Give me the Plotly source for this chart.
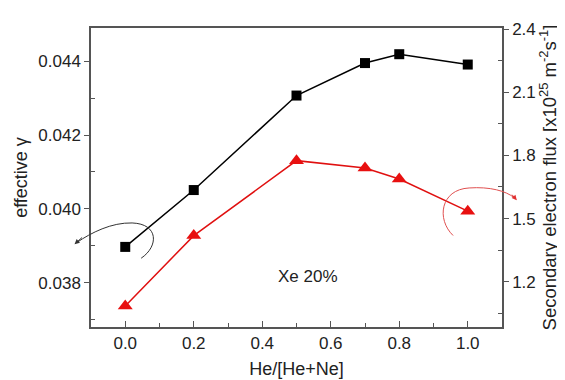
import plotly.graph_objects as go

ratio = [0.0, 0.2, 0.5, 0.7, 0.8, 1.0]
gamma = [0.03897, 0.04051, 0.04307, 0.04395, 0.04419, 0.04391]
flux = [1.085, 1.419, 1.775, 1.740, 1.688, 1.535]

x_ticks = [0.0, 0.2, 0.4, 0.6, 0.8, 1.0]
x_labels = ["0.0", "0.2", "0.4", "0.6", "0.8", "1.0"]
left_ticks = [0.038, 0.040, 0.042, 0.044]
left_labels = ["0.038", "0.040", "0.042", "0.044"]
right_ticks = [1.2, 1.5, 1.8, 2.1, 2.4]
right_labels = ["1.2", "1.5", "1.8", "2.1", "2.4"]

FONT = "Liberation Sans, Arial, sans-serif"
AX = "#555555"
TXT = "#222222"

fig = go.Figure()
fig.add_trace(go.Scatter(x=ratio, y=gamma, mode="lines+markers",
                         line=dict(color="black", width=1.5),
                         marker=dict(symbol="square", size=10, color="black"),
                         showlegend=False))
fig.add_trace(go.Scatter(x=ratio, y=flux, mode="lines+markers", yaxis="y2",
                         line=dict(color="#e01010", width=1.5),
                         marker=dict(symbol="triangle-up", size=13, color="#e81010"),
                         showlegend=False))

# curved arrow (black) pointing to the left axis (paper coordinates)
fig.add_shape(type="path", xref="paper", yref="paper",
              path="M 0.122,0.230 C 0.165,0.27 0.165,0.345 0.10,0.348 C 0.05,0.35 0.0,0.315 -0.034,0.283",
              line=dict(color="#333333", width=1))
fig.add_annotation(x=-0.04, y=0.277, ax=9, ay=-8, xref="paper", yref="paper",
                   showarrow=True, arrowhead=2, arrowsize=1,
                   arrowwidth=1, arrowcolor="#333333", text="")
# curved arrow (red) pointing to the right axis
fig.add_shape(type="path", xref="paper", yref="paper",
              path="M 0.881,0.306 C 0.84,0.36 0.85,0.46 0.92,0.465 C 0.97,0.47 1.01,0.455 1.03,0.432",
              line=dict(color="#e05050", width=1))
fig.add_annotation(x=1.036, y=0.424, ax=-6, ay=-7, xref="paper", yref="paper",
                   showarrow=True, arrowhead=2, arrowsize=1,
                   arrowwidth=1, arrowcolor="#e03030", text="")

fig.add_annotation(x=0.535, y=0.03817, xref="x", yref="y", text="Xe 20%",
                   showarrow=False, font=dict(size=17, color=TXT, family=FONT))

fig.update_layout(
    width=565, height=380,
    margin=dict(l=83, r=71, t=19, b=57),
    paper_bgcolor="white", plot_bgcolor="white",
    font=dict(family=FONT, size=17, color=TXT),
    xaxis=dict(range=[-0.1, 1.1], tickvals=x_ticks, ticktext=x_labels,
               showgrid=False, zeroline=False, showline=True, linecolor=AX,
               linewidth=1.5, mirror=True, ticks="inside", ticklen=6,
               tickcolor=AX, tickwidth=1.2,
               minor=dict(tickvals=[-0.1, 0.1, 0.3, 0.5, 0.7, 0.9], ticks="inside",
                          ticklen=4, tickcolor=AX, tickwidth=1.2),
               title=dict(text="He/[He+Ne]", font=dict(size=18), standoff=10),
               tickfont=dict(size=17)),
    yaxis=dict(range=[0.0368, 0.0449], tickvals=left_ticks, ticktext=left_labels,
               showgrid=False, zeroline=False, showline=True, linecolor=AX,
               linewidth=1.5, ticks="outside", ticklen=5, tickcolor=AX, tickwidth=1.2,
               minor=dict(tickvals=[0.037, 0.039, 0.041, 0.043], ticks="inside",
                          ticklen=4, tickcolor=AX, tickwidth=1.2),
               title=dict(text="effective γ", font=dict(size=18), standoff=6),
               tickfont=dict(size=17)),
    yaxis2=dict(range=[0.985, 2.405], overlaying="y", side="right",
                tickvals=right_ticks, ticktext=right_labels,
                showgrid=False, zeroline=False, showline=True, linecolor=AX,
                linewidth=1.5, ticks="outside", ticklen=5, tickcolor=AX, tickwidth=1.2,
                minor=dict(tickvals=[1.05, 1.35, 1.65, 1.95, 2.25], ticks="inside",
                           ticklen=4, tickcolor=AX, tickwidth=1.2),
                title=dict(text="Secondary electron flux [x10<sup>25</sup> m<sup>-2</sup>s<sup>-1</sup>]",
                           font=dict(size=18.5), standoff=8),
                tickfont=dict(size=17)),
)

fig.write_html("out.html")
